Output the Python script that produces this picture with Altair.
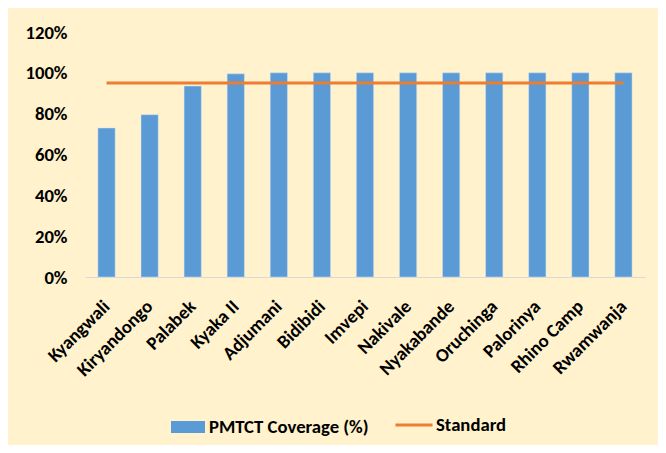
import altair as alt
import pandas as pd

categories = ["Kyangwali", "Kiryandongo", "Palabek", "Kyaka II", "Adjumani", "Bidibidi",
              "Imvepi", "Nakivale", "Nyakabande", "Oruchinga", "Palorinya", "Rhino Camp", "Rwamwanja"]
coverage = [0.73, 0.795, 0.935, 0.995, 1.0, 1.0, 1.0, 1.0, 1.0, 1.0, 1.0, 1.0, 1.0]
standard = [0.95] * 13
y_ticks = [0, 0.2, 0.4, 0.6, 0.8, 1.0, 1.2]

FONT = "Carlito, Liberation Sans Narrow, Liberation Sans, sans-serif"

df = pd.DataFrame({
    "site": categories,
    "coverage": coverage,
    "standard": standard,
    "s1": ["PMTCT Coverage (%)"] * len(categories),
    "s2": ["Standard"] * len(categories),
})

x_enc = alt.X("site:N", sort=categories, title=None,
              scale=alt.Scale(paddingInner=0.6, paddingOuter=0.3),
              axis=alt.Axis(labelAngle=-45, labelAlign="right", labelBaseline="middle",
                            labelPadding=26, ticks=False, domainColor="#D9D9D9",
                            domainWidth=1, labelFont=FONT, labelFontSize=18.7,
                            labelFontWeight="bold", labelColor="#000000", grid=False))

bars = alt.Chart(df).mark_bar(stroke="#CFE0F2", strokeWidth=0.5).encode(
    x=x_enc,
    y=alt.Y("coverage:Q", title=None,
            scale=alt.Scale(domain=[0, 1.2], nice=False),
            axis=alt.Axis(values=y_ticks, format=".0%", domain=False, ticks=False,
                          grid=False, labelPadding=18, labelFont=FONT, labelFontSize=18.7,
                          labelFontWeight="bold", labelColor="#000000")),
    fill=alt.Fill("s1:N", scale=alt.Scale(range=["#5B9BD5"]),
                  legend=alt.Legend(title=None, orient="none", legendX=86, legendY=378,
                                    symbolType="M-1,-0.353H1V0.353H-1Z", symbolSize=1156,
                                    symbolStrokeWidth=0, labelFont=FONT, labelFontSize=18.7,
                                    labelFontWeight="bold", labelColor="#000000",
                                    labelOffset=4, padding=0)),
)

line = alt.Chart(df).mark_line(strokeWidth=3).encode(
    x=alt.X("site:N", sort=categories),
    y=alt.Y("standard:Q"),
    stroke=alt.Stroke("s2:N", scale=alt.Scale(range=["#ED7D31"]),
                      legend=alt.Legend(title=None, orient="none", legendX=309, legendY=373,
                                        symbolType="M-1,0H1", symbolSize=1369,
                                        symbolStrokeWidth=3, labelFont=FONT, labelFontSize=18.7,
                                        labelFontWeight="bold", labelColor="#000000",
                                        labelOffset=2, padding=0)),
)

chart = alt.layer(bars, line).resolve_scale(fill="independent", stroke="independent").properties(
    width=560, height=245,
    autosize=alt.AutoSizeParams(type="none"),
    padding={"left": 77, "top": 24, "right": 13, "bottom": 168},
    background="#FFF2CC",
).configure_view(stroke=None)

chart.save("out.html", embed_options={"renderer": "svg", "actions": False})
